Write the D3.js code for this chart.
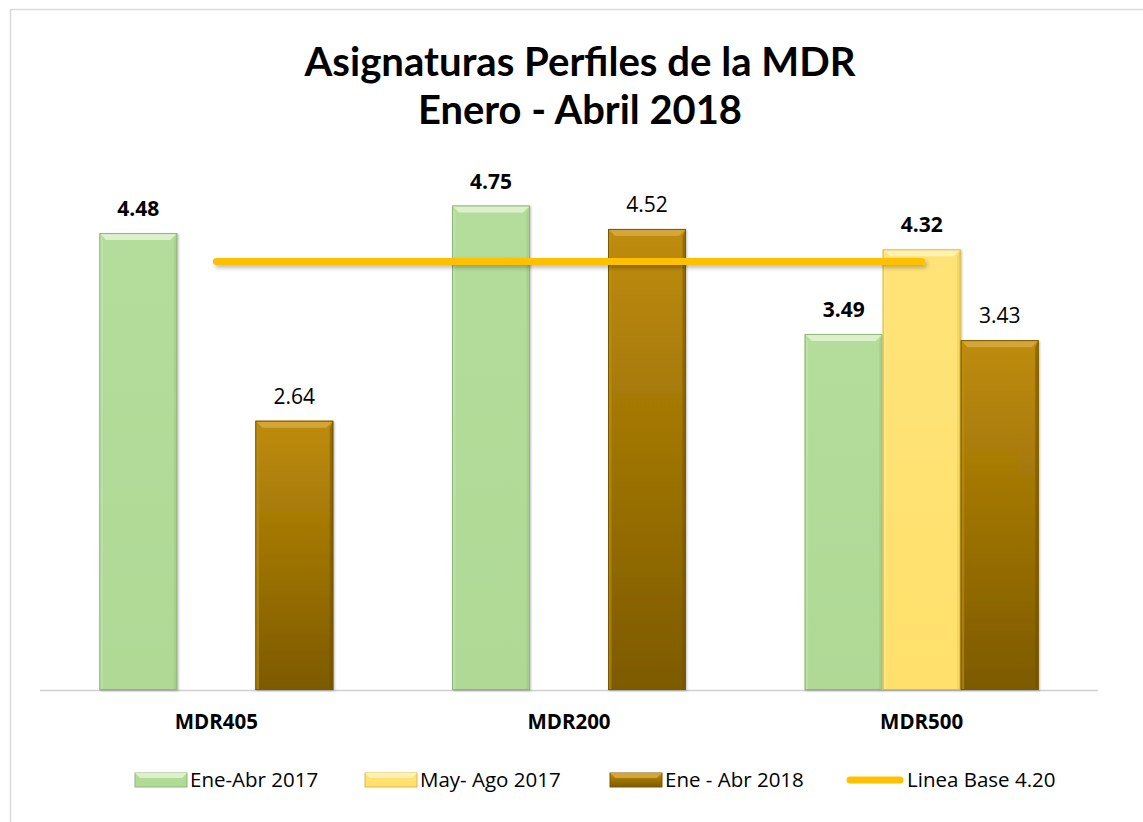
<!DOCTYPE html>
<html><head><meta charset="utf-8">
<script src="https://cdn.jsdelivr.net/npm/d3@7"></script>
<style>html,body{margin:0;padding:0;background:#fff;}svg{display:block;font-family:"Open Sans",Lato,sans-serif;}</style>
</head><body>
<svg id="c" width="1143" height="822"></svg>
<script>
const categories = ["MDR405", "MDR200", "MDR500"];
const seriesNames = ["Ene-Abr 2017", "May- Ago 2017", "Ene - Abr 2018"];
const seriesValues = [
  [4.48, 4.75, 3.49],
  [null, null, 4.32],
  [2.64, 4.52, 3.43]
];
const labelBold = [true, true, false];
const baseLineValue = 4.20;
const baseLineName = "Linea Base 4.20";
const titleLines = ["Asignaturas Perfiles de la MDR", "Enero - Abril 2018"];

const svg = d3.select("#c");
const defs = svg.append("defs");

// frame
svg.append("path").attr("d","M10.5,830 V9.5 H1150").attr("fill","none").attr("stroke","#d9d9d9").attr("stroke-width",1.5);

const styles = [
  {top:"#DCF1CB", side:"#C4E5AE", bot:"#9BC882", stroke:"#8FB57B", grad:["#B4DC9B","#AFD995"]},
  {top:"#FFF2B0", side:"#FFEA94", bot:"#E9C94E", stroke:"#D8B94A", grad:["#FFE378","#FFE06C"]},
  {top:"#D3A53A", side:"#C1900F", bot:"#6E5000", stroke:"#7A5900", grad:["#BE8C0A","#7D5A00"]}
];
styles.forEach((s,i)=>{
  const g = defs.append("linearGradient").attr("id","g"+i).attr("x1",0).attr("y1",0).attr("x2",0).attr("y2",1);
  g.append("stop").attr("offset","0%").attr("stop-color",s.grad[0]);
  g.append("stop").attr("offset","100%").attr("stop-color",s.grad[1]);
});
const f = defs.append("filter").attr("id","sh").attr("filterUnits","userSpaceOnUse")
  .attr("x",0).attr("y",0).attr("width",1143).attr("height",822);
f.append("feDropShadow").attr("dx",2).attr("dy",3).attr("stdDeviation",2).attr("flood-color","#000").attr("flood-opacity",0.25);
const fb = defs.append("filter").attr("id","shb").attr("x","-20%").attr("y","-5%").attr("width","140%").attr("height","110%");
fb.append("feDropShadow").attr("dx",1).attr("dy",1).attr("stdDeviation",1.2).attr("flood-color","#000").attr("flood-opacity",0.25);

const x0 = d3.scaleBand().domain(categories).range([40, 1098]).paddingInner(0).paddingOuter(0);
const x1 = d3.scaleBand().domain(seriesNames.map((d,i)=>i)).range([-117, 117]);
const y = d3.scaleLinear().domain([0, 5]).range([690, 180]);

// axis
svg.append("line").attr("x1",40).attr("x2",1098).attr("y1",690.5).attr("y2",690.5).attr("stroke","#d0d0d0").attr("stroke-width",1.5);

const bars = [];
seriesValues.forEach((vals,si)=>vals.forEach((v,ci)=>{
  if(v==null) return;
  bars.push({si,ci,v,cat:categories[ci]});
}));

const bg = svg.append("g");
const lg = svg.append("g");
bars.forEach(b=>{
  const s = styles[b.si];
  const cx = x0(b.cat) + x0.bandwidth()/2;
  const xl = cx + x1(b.si), xr = xl + x1.bandwidth();
  const yt = y(b.v), yb = y(0);
  const e = 7;
  const g = bg.append("g").attr("filter","url(#shb)");
  g.append("rect").attr("x",xl).attr("y",yt).attr("width",xr-xl).attr("height",yb-yt).attr("fill",`url(#g${b.si})`);
  g.append("polygon").attr("points",`${xl},${yt} ${xr},${yt} ${xr-e},${yt+e} ${xl+e},${yt+e}`).attr("fill",s.top);
  g.append("polygon").attr("points",`${xl},${yt} ${xl+e/2},${yt+e} ${xl+e/2},${yb} ${xl},${yb}`).attr("fill",s.side).attr("opacity",0.6);
  g.append("polygon").attr("points",`${xr},${yt} ${xr-e/2},${yt+e} ${xr-e/2},${yb} ${xr},${yb}`).attr("fill",s.bot).attr("opacity",0.5);
  g.append("rect").attr("x",xl+0.5).attr("y",yt+0.5).attr("width",xr-xl-1).attr("height",yb-yt-1).attr("fill","none").attr("stroke",s.stroke).attr("stroke-width",1);
  lg.append("text").attr("x",xl + x1.bandwidth()/2).attr("y",yt-17)
    .attr("text-anchor","middle").attr("font-size",21).attr("font-weight",labelBold[b.si]?"bold":"normal")
    .attr("fill","#000").text(b.v.toFixed(2));
});

// base line
const lx1 = x0(categories[0]) + x0.bandwidth()/2, lx2 = x0(categories[2]) + x0.bandwidth()/2;
svg.append("line").attr("x1",lx1).attr("x2",lx2).attr("y1",y(baseLineValue)).attr("y2",y(baseLineValue))
  .attr("stroke","#FFC000").attr("stroke-width",7).attr("stroke-linecap","round").attr("filter","url(#sh)");

// category labels
categories.forEach(c=>{
  svg.append("text").attr("x",x0(c)+x0.bandwidth()/2).attr("y",729).attr("text-anchor","middle")
    .attr("font-size",20.5).attr("font-weight","bold").attr("fill","#000").text(c);
});

// title
titleLines.forEach((t,i)=>{
  const tt = svg.append("text").attr("x",580).attr("y",[76,124][i]).attr("text-anchor","middle")
    .attr("font-family","Lato,Carlito,sans-serif")
    .attr("font-size",41).attr("font-weight","bold").attr("fill","#000").text(t)
    .attr("textLength",[551,324][i]).attr("lengthAdjust","spacingAndGlyphs");
});

// legend
const legX = [135, 365, 610];
seriesNames.forEach((n,i)=>{
  const s = styles[i];
  const gx = legX[i], gy = 773, w = 52, h = 14;
  const g = svg.append("g");
  g.append("rect").attr("x",gx).attr("y",gy).attr("width",w).attr("height",h).attr("fill",`url(#g${i})`).attr("stroke",s.stroke);
  g.append("polygon").attr("points",`${gx},${gy} ${gx+w},${gy} ${gx+w-5},${gy+5} ${gx+5},${gy+5}`).attr("fill",s.top);
  svg.append("text").attr("x",gx+w+3).attr("y",787).attr("font-size",20.5).attr("fill","#000").text(n);
});
svg.append("line").attr("x1",850).attr("x2",900).attr("y1",780).attr("y2",780).attr("stroke","#FFC000").attr("stroke-width",7).attr("stroke-linecap","round");
svg.append("text").attr("x",907).attr("y",787).attr("font-size",20.5).attr("fill","#000").text(baseLineName);
</script>
</body></html>
